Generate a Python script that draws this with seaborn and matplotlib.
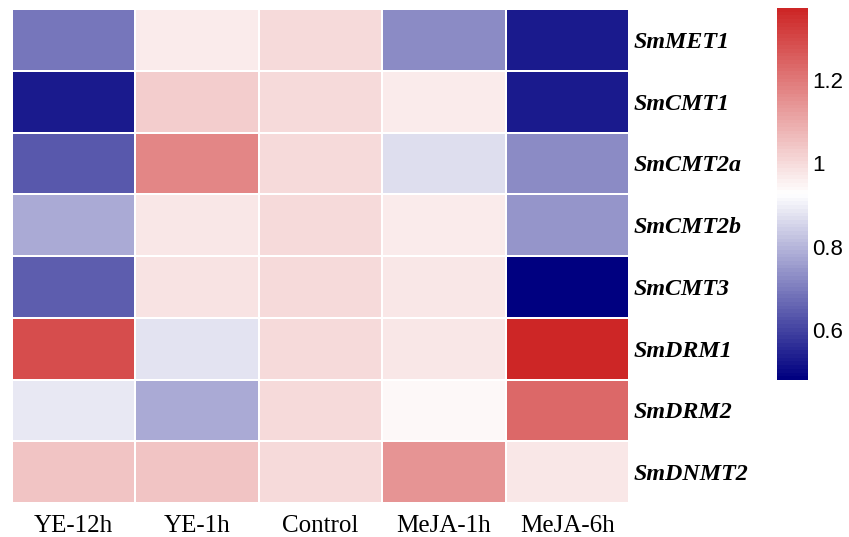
import numpy as np
import pandas as pd
import matplotlib
matplotlib.use("Agg")
import matplotlib.pyplot as plt
from matplotlib.colors import LinearSegmentedColormap
import seaborn as sns

# Relative expression of DNA methyltransferase genes under elicitor treatments
genes = ["SmMET1", "SmCMT1", "SmCMT2a", "SmCMT2b", "SmCMT3", "SmDRM1", "SmDRM2", "SmDNMT2"]
conditions = ["YE-12h", "YE-1h", "Control", "MeJA-1h", "MeJA-6h"]

ye_12h = [0.69, 0.533, 0.634, 0.78, 0.641, 1.29, 0.89, 1.05]
ye_1h = [0.964, 1.028, 1.172, 0.978, 0.987, 0.88, 0.78, 1.05]
control = [1.0, 1.0, 1.0, 1.0, 1.0, 1.0, 1.0, 1.0]
meja_1h = [0.73, 0.964, 0.872, 0.964, 0.975, 0.975, 0.94, 1.143]
meja_6h = [0.527, 0.527, 0.725, 0.742, 0.48, 1.373, 1.238, 0.98]

cbar_ticks = [0.6, 0.8, 1.0, 1.2]
cbar_labels = ["0.6", "0.8", "1", "1.2"]

df = pd.DataFrame(
    {c: v for c, v in zip(conditions, [ye_12h, ye_1h, control, meja_1h, meja_6h])},
    index=genes,
)

cmap = LinearSegmentedColormap.from_list("navy_white_red", ["#000080", "#FFFFFF", "#CD2626"], N=100)

sns.set_theme(style="white")
fig = plt.figure(figsize=(8.49, 5.37), dpi=100)
ax = fig.add_axes([12 / 849, 1 - 503 / 537, 617 / 849, 494 / 537])
cax = fig.add_axes([777 / 849, 1 - 380 / 537, 31 / 849, 372 / 537])

sns.heatmap(
    df, ax=ax, cbar_ax=cax, cmap=cmap,
    vmin=min(df.min()), vmax=max(df.max()),
    linewidths=1.2, linecolor="white",
)

ax.yaxis.tick_right()
ax.set_yticks(np.arange(len(genes)) + 0.5)
ax.set_yticklabels(genes, rotation=0, fontfamily="Liberation Serif",
                   fontweight="bold", fontstyle="italic", fontsize=17.3, color="black")
ax.set_xticks(np.arange(len(conditions)) + 0.5)
ax.set_xticklabels(conditions, rotation=0, fontfamily="Liberation Serif",
                   fontsize=18, color="black")
ax.tick_params(axis="y", length=0, pad=3)
ax.tick_params(axis="x", length=0, pad=9)
ax.set_xlabel("")
ax.set_ylabel("")

cbar = ax.collections[0].colorbar
cbar.outline.set_visible(False)
cbar.set_ticks(cbar_ticks)
cbar.set_ticklabels(cbar_labels)
cax.tick_params(axis="y", length=0, pad=3)
for lab in cax.get_yticklabels():
    lab.set_fontfamily("Liberation Sans")
    lab.set_fontsize(16)
    lab.set_color("black")

fig.savefig("out.png", dpi=100)
